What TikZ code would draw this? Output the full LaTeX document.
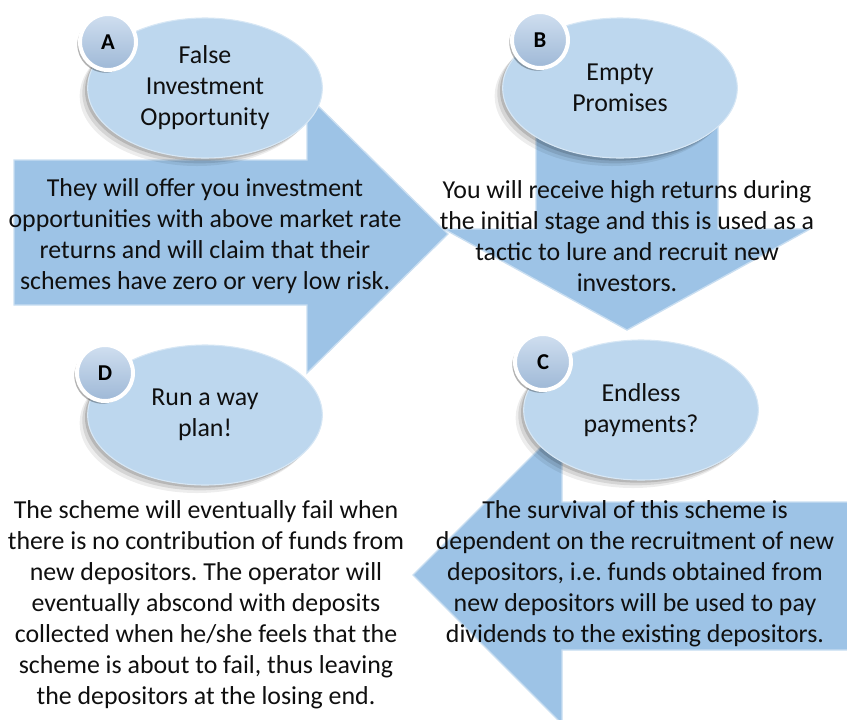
\documentclass[tikz,border=0pt]{standalone}
\usepackage{fontspec}
\setmainfont{Carlito}
\usepackage{xcolor}
\usepackage{tikz}
\usetikzlibrary{shapes,shadows}
\definecolor{arrowblue}{RGB}{157, 195, 230}
\definecolor{bubbleblue}{RGB}{189, 215, 238}
\definecolor{badgetop}{RGB}{208, 223, 240}
\definecolor{badgebottom}{RGB}{158, 184, 214}
\definecolor{inktext}{RGB}{15, 15, 15}
\newcommand{\schemefont}{\fontsize{19.4pt}{23.3pt}\selectfont\frenchspacing}
\newcommand{\letterfont}{\fontsize{17pt}{20pt}\selectfont\bfseries}

\begin{document}
\begin{tikzpicture}[
    x=0.75pt, y=-0.75pt,
    arrowshape/.style={fill=arrowblue, draw=arrowblue!55!white, line width=1pt, line join=miter},
    softshadow/.style={
        drop shadow={shadow xshift=-6pt, shadow yshift=-6pt, opacity=0.07, fill=black},
        drop shadow={shadow xshift=-4pt, shadow yshift=-4pt, opacity=0.1, fill=black},
        drop shadow={shadow xshift=-2pt, shadow yshift=-2pt, opacity=0.14, fill=black}},
    bubble/.style={ellipse, fill=bubbleblue, draw=bubbleblue!60!white, line width=0.8pt, minimum width=176pt, minimum height=105pt, inner sep=0pt, align=center, font=\schemefont, text=inktext, softshadow},
    badge/.style={circle, minimum size=42pt, inner sep=0pt, top color=badgetop, bottom color=badgebottom, draw=white, line width=3pt, font=\letterfont, text=black,
        drop shadow={shadow xshift=-2pt, shadow yshift=-2pt, opacity=0.3, fill=black}},
    desc/.style={align=center, font=\schemefont, text=inktext, inner sep=0pt}
]
    \useasboundingbox (0,0) rectangle (847,719);

    % Arrow A, pointing right
    \draw[arrowshape] (14,160) -- (307,160) -- (307,95) -- (448,234) -- (307,373) -- (307,305) -- (14,305) -- cycle;

    % Arrow B, pointing down
    \draw[arrowshape] (536,120) -- (718,120) -- (718,229) -- (810,229) -- (627,330) -- (444,229) -- (536,229) -- cycle;

    % Arrow C, pointing left
    \draw[arrowshape] (850,502) -- (562,502) -- (562,426) -- (413,575) -- (562,724) -- (562,650) -- (850,650) -- cycle;

    % Title bubbles
    \node[bubble] (bubbleA) at (205,88) {False\\Investment\\Opportunity};
    \node[bubble] (bubbleB) at (620,88) {Empty\\Promises};
    \node[bubble] (bubbleC) at (641,410) {Endless\\payments?};
    \node[bubble] (bubbleD) at (205,415) {Run a way\\plan!};

    % Letter badges
    \node[badge] (badgeA) at (108,42) {A};
    \node[badge] (badgeB) at (540,40) {B};
    \node[badge] (badgeC) at (543,362) {C};
    \node[badge] (badgeD) at (105,373) {D};

    % Descriptions
    \node[desc] (descA) at (205,236) {They will offer you investment\\opportunities with above market rate\\returns and will claim that their\\schemes have zero or very low risk.};
    \node[desc] (descB) at (627,236) {You will receive high returns during\\the initial stage and this is used as a\\tactic to lure and recruit new\\investors.};
    \node[desc] (descC) at (635,574) {The survival of this scheme is\\dependent on the recruitment of new\\depositors, i.e. funds obtained from\\new depositors will be used to pay\\dividends to the existing depositors.};
    \node[desc] (descD) at (206,605) {The scheme will eventually fail when\\there is no contribution of funds from\\new depositors. The operator will\\eventually abscond with deposits\\collected when he/she feels that the\\scheme is about to fail, thus leaving\\the depositors at the losing end.};
\end{tikzpicture}
\end{document}
